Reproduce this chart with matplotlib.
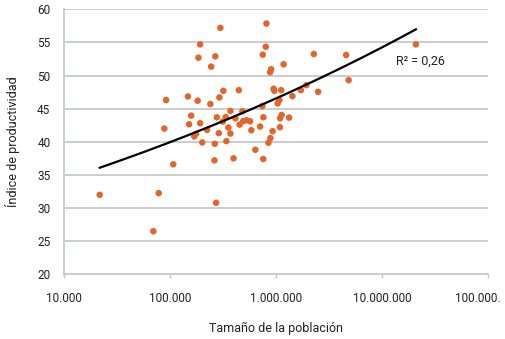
import numpy as np
import matplotlib
matplotlib.use("Agg")
import matplotlib.pyplot as plt
from matplotlib.transforms import Bbox, TransformedBbox

plt.rcParams['font.family'] = ['Roboto', 'DejaVu Sans']

# Population size (x) and productivity index (y)
poblacion = [21600, 69400, 78000, 88100, 91500, 107000, 147000, 151000, 158000, 169000,
             176000, 182000, 185000, 192000, 192000, 201000, 223000, 240000, 244000, 262000,
             264000, 267000, 272000, 276000, 288000, 292000, 298000, 314000, 318000, 335000,
             340000, 355000, 371000, 371000, 397000, 413000, 445000, 453000, 481000, 489000,
             527000, 569000, 585000, 638000, 708000, 744000, 750000, 760000, 757000, 801000,
             812000, 848000, 885000, 880000, 899000, 929000, 949000, 966000, 1036000, 1075000,
             1094000, 1090000, 1130000, 1120000, 1180000, 1330000, 1429000, 1716000, 1938000,
             2276000, 2500000, 4600000, 4855000, 20960000]
productividad = [32.0, 26.5, 32.25, 42.0, 46.3, 36.6, 46.85, 42.65, 43.95, 40.8,
                 41.2, 46.2, 52.7, 54.7, 42.8, 39.9, 41.8, 45.7, 51.35, 37.2,
                 39.7, 52.9, 30.8, 43.7, 41.3, 46.7, 57.2, 43.05, 47.7, 43.75,
                 40.1, 42.15, 41.25, 44.65, 37.5, 43.55, 47.8, 42.6, 44.6, 43.1,
                 43.25, 43.1, 41.75, 38.8, 42.3, 45.4, 53.15, 43.7, 37.4, 54.35,
                 57.85, 39.85, 40.55, 50.5, 50.95, 41.6, 48.0, 47.7, 45.8, 46.3,
                 43.55, 42.2, 44.05, 47.8, 51.7, 43.65, 46.9, 47.8, 48.55,
                 53.25, 47.55, 53.1, 49.3, 54.7]

# Power trend line y = a * x^b (as shown in the chart)
trend_a = 18.6
trend_b = 0.0664
r2_label = "R² = 0,26"

xticks = [1e4, 1e5, 1e6, 1e7, 1e8]
xticklabels = ["10.000", "100.000", "1.000.000", "10.000.000", "100.000.000"]
yticks = [20, 25, 30, 35, 40, 45, 50, 55, 60]

fig = plt.figure(figsize=(5.06, 3.39), dpi=100)
ax = fig.add_axes([64.3/506, 1-274.3/339, (487.7-64.3)/506, (274.3-9.3)/339])

grid_c = '#c6c9cb'
ax.set_xscale('log')
ax.set_xlim(1e4, 1e8)
ax.set_ylim(20, 60)
ax.set_yticks(yticks)
ax.set_xticks(xticks)
ax.set_xticklabels(xticklabels)
ax.minorticks_off()
ax.xaxis.set_minor_locator(matplotlib.ticker.NullLocator())

for y in yticks[1:]:
    ax.axhline(y, color=grid_c, lw=1.3, zorder=1)

for s in ['top', 'right']:
    ax.spines[s].set_visible(False)
for s in ['left', 'bottom']:
    ax.spines[s].set_color(grid_c)
    ax.spines[s].set_linewidth(1.3)

ax.tick_params(axis='y', length=0, pad=10, labelsize=8.5, colors='#222222')
ax.tick_params(axis='x', length=3, width=1.0, color=grid_c, direction='out',
               pad=10, labelsize=8.5, labelcolor='#222222')

xs = np.array(poblacion, dtype=float)
ys = np.array(productividad, dtype=float)
ax.scatter(xs, ys, s=22, color='#e2662a', edgecolors='none', zorder=3)

xt = np.logspace(np.log10(xs.min()), np.log10(xs.max()), 200)
ax.plot(xt, trend_a * xt ** trend_b, color='black', lw=1.6, zorder=4)

ax.text(395.7/506, 1-61.7/339, r2_label, transform=fig.transFigure,
        fontsize=9, ha='left', va='center', color='#222222')

ax.set_xlabel("Tamaño de la población", fontsize=9, labelpad=12, color='#222222')
ax.set_ylabel("Índice de productividad", fontsize=9, labelpad=12, color='#222222')

# clip last tick label as in the reference
clipbox = TransformedBbox(Bbox([[0, 0], [500/506, 1]]), fig.transFigure)
for lab in ax.get_xticklabels():
    lab.set_clip_box(clipbox)
    lab.set_clip_on(True)

fig.savefig("out.png", dpi=100)
